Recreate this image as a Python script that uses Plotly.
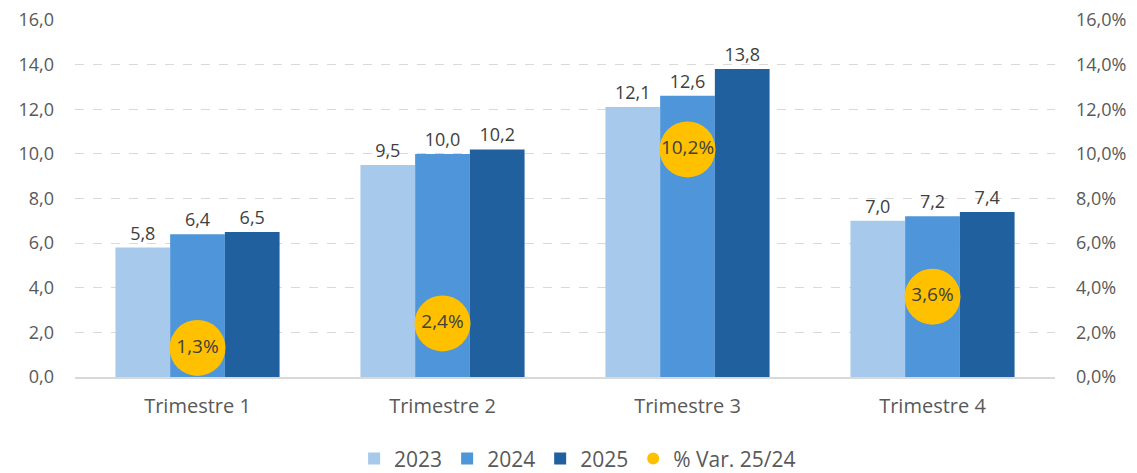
import plotly.graph_objects as go

categories = ["Trimestre 1", "Trimestre 2", "Trimestre 3", "Trimestre 4"]
v2023 = [5.8, 9.5, 12.1, 7.0]
v2024 = [6.4, 10.0, 12.6, 7.2]
v2025 = [6.5, 10.2, 13.8, 7.4]
var_pct = [1.3, 2.4, 10.2, 3.6]
var_labels = ["1,3%", "2,4%", "10,2%", "3,6%"]

FONT = "Open Sans"
TXT = "#595959"

fig = go.Figure()
for name, vals, col in [("2023", v2023, "#A7C9EB"), ("2024", v2024, "#4E95D9"), ("2025", v2025, "#21609E")]:
    fig.add_trace(go.Bar(
        x=categories, y=vals, name=name, marker_color=col, marker_line_width=0,
        texttemplate="%{y:.1f}", textposition="outside",
        cliponaxis=False, textfont=dict(size=18, color="#404040", family=FONT),
    ))

fig.add_trace(go.Scatter(
    x=categories, y=var_pct, name="% Var. 25/24", yaxis="y2", mode="markers+text",
    marker=dict(size=56, color="#FFC000"), text=var_labels, textposition="middle center",
    textfont=dict(size=19, color="#404040", family=FONT), cliponaxis=False,
))

fig.update_layout(
    width=1137, height=473, separators=",.",
    margin=dict(l=75, r=82, t=20, b=96, autoexpand=False),
    plot_bgcolor="white", paper_bgcolor="white",
    font=dict(family=FONT, size=18, color=TXT),
    barmode="group", bargap=0.33, bargroupgap=0,
    xaxis=dict(showline=True, linecolor="#D9D9D9", linewidth=1.5, ticks="", automargin=False,
               ticklabelstandoff=10, tickfont=dict(size=20)),
    yaxis=dict(range=[0, 16], dtick=2, tickformat=".1f", showgrid=True, gridcolor="#D9D9D9",
               griddash="dash", zeroline=False, ticks="", automargin=False,
               ticklabelstandoff=20, tickfont=dict(size=18)),
    yaxis2=dict(range=[0, 16], dtick=2, tickformat=".1f", ticksuffix="%", overlaying="y", side="right",
                showgrid=False, zeroline=False, ticks="", automargin=False,
                ticklabelstandoff=20, tickfont=dict(size=18)),
    legend=dict(orientation="h", xref="container", yref="container", x=0.508, xanchor="center",
                y=0.03, yanchor="middle",
                font=dict(size=21, color=TXT), itemsizing="constant", traceorder="normal"),
)

fig.write_html("out.html", config={"displayModeBar": False},
               post_script="document.body.style.margin='0';document.body.style.overflow='hidden';")
